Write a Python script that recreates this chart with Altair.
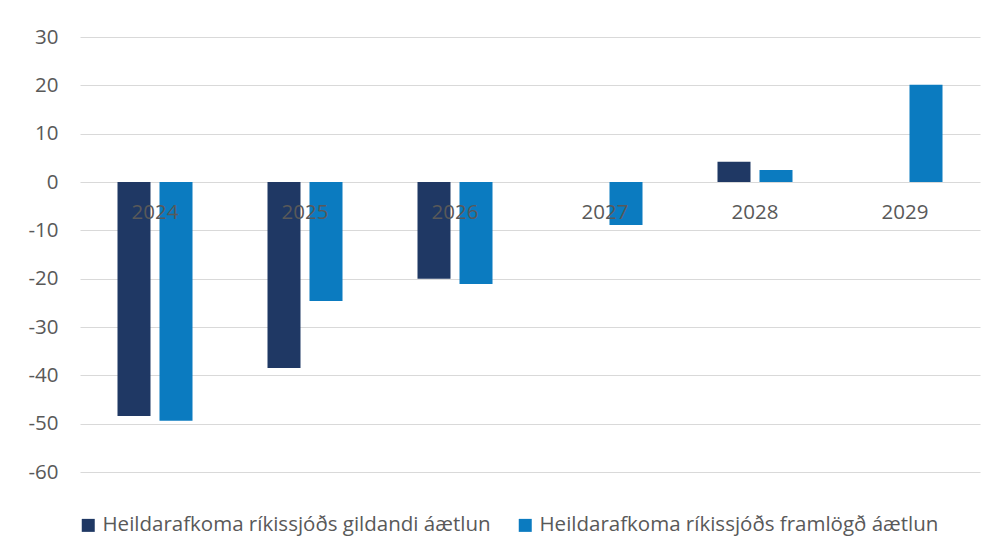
import altair as alt
import pandas as pd

years = ["2024", "2025", "2026", "2027", "2028", "2029"]
series_names = [
    "Heildarafkoma ríkissjóðs gildandi áætlun",
    "Heildarafkoma ríkissjóðs framlögð áætlun",
]
gildandi = [-48.4, -38.5, -20.0, None, 4.2, None]
framlogd = [-49.4, -24.6, -21.1, -8.9, 2.5, 20.1]
colors = ["#1F3864", "#0B7BC0"]
y_ticks = [30, 20, 10, 0, -10, -20, -30, -40, -50, -60]

rows = []
for i, yr in enumerate(years):
    rows.append({"year": yr, "series": series_names[0], "value": gildandi[i]})
    rows.append({"year": yr, "series": series_names[1], "value": framlogd[i]})
df = pd.DataFrame(rows).dropna()
labels_df = pd.DataFrame({"year": years, "zero": [0] * len(years)})

FONT = "Open Sans"
FS = 20.5

x_scale = alt.Scale(domain=years, paddingInner=0.5, paddingOuter=0.25)
y_scale = alt.Scale(domain=[-60, 30], nice=False, zero=False)

bars = alt.Chart(df).mark_bar().encode(
    x=alt.X("year:N", scale=x_scale, axis=None),
    xOffset=alt.XOffset("series:N", sort=series_names,
                        scale=alt.Scale(paddingInner=0.214, paddingOuter=0)),
    y=alt.Y("value:Q", scale=y_scale,
            axis=alt.Axis(values=y_ticks, title=None, domain=False, ticks=False,
                          labelPadding=22, labelFontSize=FS, labelColor="#595959",
                          labelFont=FONT, grid=True, gridColor="#D9D9D9",
                          gridWidth=1.2,
                          labelExpr="toString(datum.value)")),
    color=alt.Color("series:N", sort=series_names,
                    scale=alt.Scale(domain=series_names, range=colors),
                    legend=alt.Legend(title=None, orient="none", direction="horizontal",
                                      legendX=-2, legendY=478, padding=0,
                                      symbolType="square", symbolSize=169,
                                      symbolStrokeWidth=0, labelFontSize=FS,
                                      labelFont=FONT, labelColor="#595959",
                                      labelOffset=4, columnPadding=24,
                                      labelLimit=600)),
)

texts = alt.Chart(labels_df).mark_text(
    fontSize=FS, font=FONT, color="#595959", baseline="middle", dy=31
).encode(
    x=alt.X("year:N", scale=x_scale, axis=None),
    y=alt.Y("zero:Q", scale=y_scale),
    text="year:N",
)

chart = alt.layer(bars, texts).properties(
    width=900, height=435,
    autosize=alt.AutoSizeParams(type="none"),
    padding={"left": 72, "top": 29, "right": 14, "bottom": 76},
    background="white",
).configure_view(stroke=None)

chart.save("out.html", embed_options={"renderer": "svg", "actions": False})
